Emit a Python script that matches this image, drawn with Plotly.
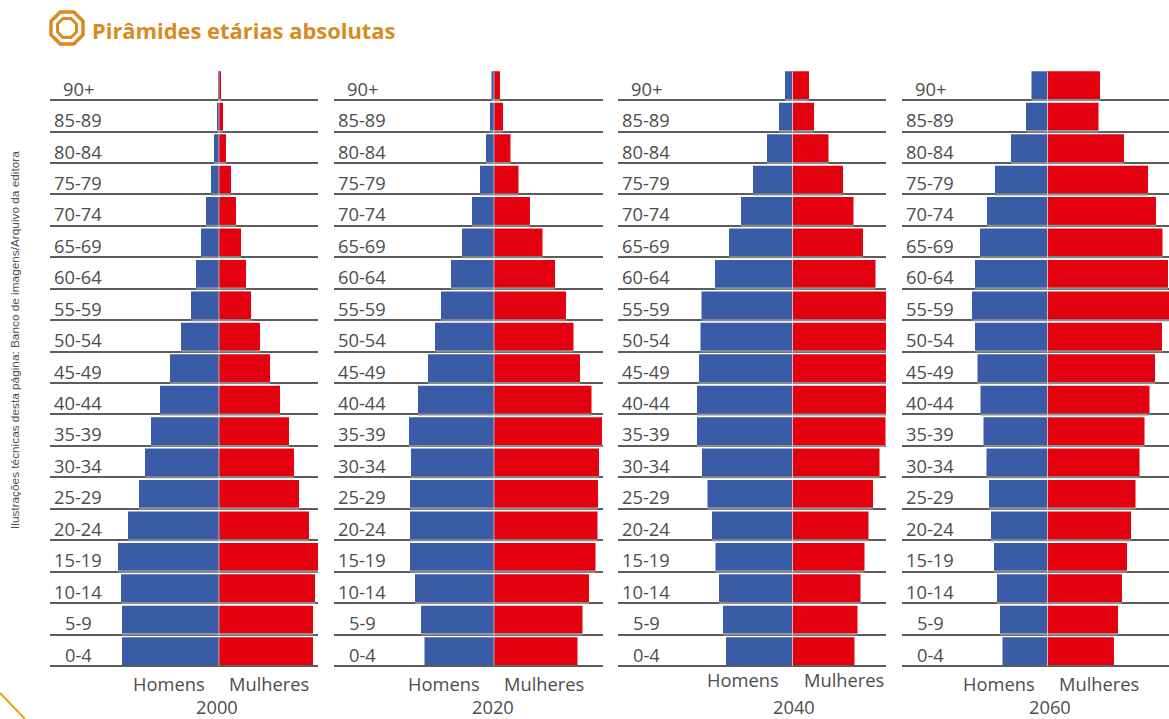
import plotly.graph_objects as go

W, H = 1169, 719
age_groups = ["0-4", "5-9", "10-14", "15-19", "20-24", "25-29", "30-34", "35-39", "40-44", "45-49",
              "50-54", "55-59", "60-64", "65-69", "70-74", "75-79", "80-84", "85-89", "90+"]
years = ["2000", "2020", "2040", "2060"]
men_2000 = [97, 97, 98, 101, 91, 80, 74, 68, 59, 49, 38, 28, 23, 18, 13, 8, 5, 2, 1]
women_2000 = [94, 94, 96, 99, 90, 80, 75, 70, 61, 51, 41, 32, 27, 22, 17, 12, 7, 4, 2]
men_2020 = [69.5, 73, 79, 84, 84, 84, 83, 85, 76, 66, 59, 53, 43, 32, 22, 14, 8, 4, 2.5]
women_2020 = [83.5, 88.5, 95, 101.5, 103.5, 104, 105, 108, 97.5, 86, 79.5, 72, 61, 48.5, 36, 24.5, 16.5, 9, 6]
men_2040 = [66.5, 69.5, 73.5, 77, 80.5, 85, 90.5, 95.5, 95.5, 93.5, 92, 91, 77.5, 63.5, 51.5, 39.5, 25.5, 13.5, 7.5]
women_2040 = [62, 65, 68, 72, 76, 80.5, 87, 93, 94, 93.5, 93.5, 94.5, 83, 70.5, 61, 50.5, 36, 21.5, 16.5]
men_2060 = [45, 47.5, 50.5, 53.5, 56.5, 58.5, 61, 64, 67, 70, 72.5, 75.5, 72.5, 67.5, 60.5, 52.5, 36.5, 21.5, 16]
women_2060 = [66.5, 70.5, 74.5, 79.5, 83.5, 88, 92, 97, 102, 107.5, 114.5, 122, 120.5, 115, 108.5, 100.5, 76.5, 51, 52.5]
men = [men_2000, men_2020, men_2040, men_2060]
women = [women_2000, women_2020, women_2040, women_2060]

BLUE, RED = "#3a5ba6", "#e3000f"
LINE, TXT, ORANGE = "#5c5c5c", "#4d4d4d", "#d98a1f"
FONT = "Open Sans"
SIZE = 18.3

# panel geometry in page pixels: line start, line end, centre of pyramid
panels = [(50, 318, 219), (334, 603, 494), (618, 886, 792.5), (902, 1169, 1047.5)]
labels_x = [(169, 269, 217), (444, 544, 493), (743, 844, 794), (999, 1099, 1050)]
sex_y = [683, 683, 679, 683]
year_y = 706
BASE0, STEP = 666, 31.44
ROWS = list(range(len(age_groups)))


def px(x):
    return x / W


def py(y):
    return 1 - y / H


fig = go.Figure()
layout = {}
ann = []
shapes = []
for k, (x0, x1, c) in enumerate(panels):
    sfx = "" if k == 0 else str(k + 1)
    fig.add_trace(go.Bar(y=ROWS, x=[-v for v in men[k]], orientation="h", marker_color=BLUE,
                         marker_line_width=0, offset=0.03, width=0.885, name="Homens", showlegend=False,
                         xaxis="x" + sfx, yaxis="y" + sfx, cliponaxis=False, hoverinfo="x+y"))
    fig.add_trace(go.Bar(y=ROWS, x=women[k], orientation="h", marker_color=RED,
                         marker_line_width=0, offset=0.03, width=0.885, name="Mulheres", showlegend=False,
                         xaxis="x" + sfx, yaxis="y" + sfx, cliponaxis=False, hoverinfo="x+y"))
    # lighter separators where the rule passes under a bar
    sx, sy = [], []
    for i in ROWS[1:]:
        sx += [-men[k][i], women[k][i], None]
        sy += [i, i, None]
    fig.add_trace(go.Scatter(x=sx, y=sy, mode="lines", line=dict(color="#8c8c8c", width=2), showlegend=False,
                             hoverinfo="skip", xaxis="x" + sfx, yaxis="y" + sfx))
    layout["xaxis" + sfx] = dict(domain=[px(x0), px(x1)], range=[x0 - c, x1 - c], visible=False,
                                 anchor="y" + sfx, fixedrange=True)
    bottom, top = BASE0 + 0.1 * STEP, BASE0 - 19 * STEP
    layout["yaxis" + sfx] = dict(domain=[py(bottom), py(top)], range=[-0.1, 19], anchor="x" + sfx,
                                 tickmode="array", tickvals=ROWS, showticklabels=False,
                                 ticks="", showgrid=True, gridcolor=LINE, gridwidth=2, zeroline=False,
                                 showline=False, fixedrange=True)
    shapes.append(dict(type="line", xref="x" + sfx, yref="y" + sfx, x0=0, x1=0, y0=0, y1=18.9, layer="above",
                       line=dict(color="rgba(255,255,255,0.55)", width=1)))
    for i, a in enumerate(age_groups):
        ann.append(dict(text=a, xref="x" + sfx + " domain", yref="y" + sfx, x=28 / (x1 - x0), y=i + 0.38,
                        xanchor="center", yanchor="middle", showarrow=False,
                        font=dict(family=FONT, size=SIZE, color=TXT)))
    hx, mx, yx = labels_x[k]
    for t, xx, yy in (("Homens", hx, sex_y[k]), ("Mulheres", mx, sex_y[k]), (years[k], yx, year_y)):
        ann.append(dict(text=t, xref="paper", yref="paper", x=px(xx), y=py(yy), xanchor="center",
                        yanchor="middle", showarrow=False, font=dict(family=FONT, size=SIZE, color=TXT)))

ann.append(dict(text="<b>Pirâmides etárias absolutas</b>", xref="paper", yref="paper", x=px(90), y=py(31),
                xanchor="left", yanchor="middle", showarrow=False,
                font=dict(family=FONT, size=21.9, color=ORANGE)))
ann.append(dict(text="Ilustrações técnicas desta página: Banco de imagens/Arquivo da editora", xref="paper",
                yref="paper", x=px(15), y=py(340), xanchor="center", yanchor="middle", showarrow=False,
                textangle=-90, font=dict(family="Liberation Sans", size=11.8, color="#4d4d4d")))


def octagon(cx, cy, r):
    c = 0.42 * r
    pts = [(cx - c, cy - r), (cx + c, cy - r), (cx + r, cy - c), (cx + r, cy + c),
           (cx + c, cy + r), (cx - c, cy + r), (cx - r, cy + c), (cx - r, cy - c)]
    return "M" + " L".join(f"{px(a):.5f},{py(b):.5f}" for a, b in pts) + " Z"


shapes += [
    dict(type="path", xref="paper", yref="paper", path=octagon(67, 28, 16), line=dict(color=ORANGE, width=3.5)),
    dict(type="path", xref="paper", yref="paper", path=octagon(67, 28, 9.5), line=dict(color=ORANGE, width=3)),
    dict(type="line", xref="paper", yref="paper", x0=0, y0=py(693), x1=px(25), y1=py(719),
         line=dict(color="#f09a1a", width=2)),
]

fig.update_layout(width=W, height=H, margin=dict(l=0, r=0, t=0, b=0), paper_bgcolor="white",
                  plot_bgcolor="rgba(0,0,0,0)", barmode="overlay", showlegend=False,
                  annotations=ann, shapes=shapes, **layout)
fig.write_html("out.html", post_script="document.body.style.margin='0';",
               config={"displayModeBar": False})
